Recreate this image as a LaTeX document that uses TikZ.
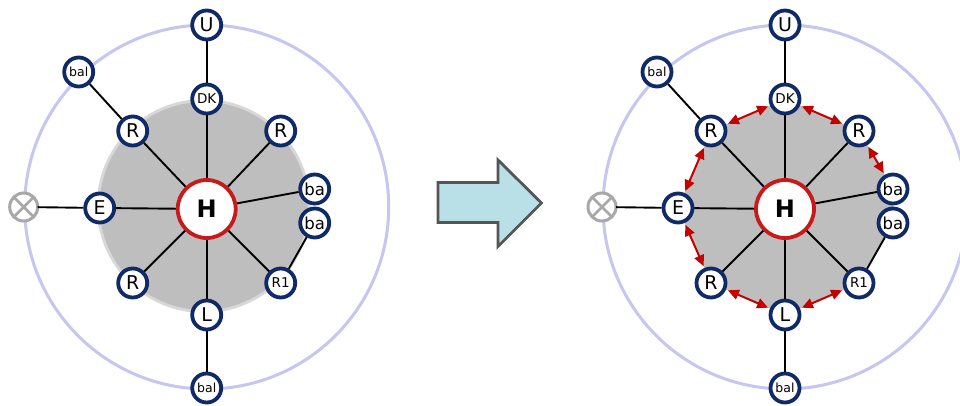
\documentclass[tikz,border=0pt]{standalone}
\usepackage{fontspec}
\setmainfont{DejaVu Sans}
\usetikzlibrary{arrows.meta}
\pgfdeclarelayer{base}
\pgfdeclarelayer{bg}
\pgfsetlayers{base,bg,main}
\definecolor{navy}{HTML}{0F2A66}
\definecolor{hred}{HTML}{C81A1A}
\definecolor{ringc}{HTML}{C6C6F0}
\definecolor{discc}{HTML}{BEBEBE}
\definecolor{rimc}{HTML}{D8D8D8}
\definecolor{arrred}{HTML}{C40000}
\definecolor{bigfill}{HTML}{B8E0E6}
\definecolor{bigedge}{HTML}{555555}
\definecolor{xgray}{HTML}{A8A8A8}
\tikzset{
  nd/.style={circle, draw=navy, line width=3.8pt, fill=white, minimum size=29pt, inner sep=0pt, font=\fontsize{19}{19}\selectfont},
  ndba/.style={nd, font=\fontsize{16.5}{16.5}\selectfont},
  ndsm/.style={nd, font=\fontsize{13.5}{13.5}\selectfont},
  ndbal/.style={nd, font=\fontsize{12.5}{12.5}\selectfont},
  hub/.style={circle, draw=hred, line width=3.8pt, fill=white, minimum size=58pt, inner sep=0pt, font=\fontsize{24}{24}\selectfont\bfseries},
  xnode/.style={circle, draw=xgray, line width=3pt, fill=white, minimum size=28pt, inner sep=0pt, outer sep=0pt},
  link/.style={line width=1.9pt, black},
  ringline/.style={draw=ringc, line width=3pt},
  dbl/.style={arrred, line width=2pt, {Triangle[length=11pt,width=10pt]}-{Triangle[length=11pt,width=10pt]}, shorten <=2pt, shorten >=2pt},
}
\newcommand\drawnet[2]{%
  \begin{scope}[shift={(#2,209)}]
    \node[hub] (#1H) at (0,0) {H};
    \node[nd] (#1U) at (0,-184) {U};
    \node[ndsm] (#1DK) at (0,-110) {DK};
    \node[nd] (#1Rul) at (-74,-78) {R};
    \node[nd] (#1Rur) at (74,-78) {R};
    \node[ndba] (#1ba1) at (108,-20) {ba};
    \node[ndba] (#1ba2) at (108,14) {ba};
    \node[ndsm] (#1R1) at (74,74) {R1};
    \node[nd] (#1L) at (0,106) {L};
    \node[nd] (#1Rll) at (-74,74) {R};
    \node[nd] (#1E) at (-107,-1) {E};
    \node[xnode] (#1X) at (-183,-2) {};
    \node[ndbal] (#1balt) at (-128,-137) {bal};
    \node[ndbal] (#1balb) at (0,179) {bal};
    \draw[xgray, line width=2.6pt] (#1X.45) -- (#1X.225) (#1X.135) -- (#1X.315);
    \draw[link] (#1U) -- (#1DK);
    \draw[link] (#1DK) -- (#1H);
    \draw[link] (#1Rul) -- (#1H);
    \draw[link] (#1Rur) -- (#1H);
    \draw[link] (#1ba1) -- (#1H);
    \draw[link] (#1R1) -- (#1H);
    \draw[link] (#1L) -- (#1H);
    \draw[link] (#1Rll) -- (#1H);
    \draw[link] (#1E) -- (#1H);
    \draw[link] (#1X) -- (#1E);
    \draw[link] (#1balt) -- (#1Rul);
    \draw[link] (#1balb) -- (#1L);
    \draw[link] (#1R1) -- (#1ba2);
    \begin{pgfonlayer}{bg}
      \draw[ringline] (0,-2) circle[radius=182];
    \end{pgfonlayer}
  \end{scope}}
\begin{document}
\begin{tikzpicture}[x=1pt,y=-1pt]
  \begin{pgfonlayer}{base}
    \fill[white] (0,0) rectangle (960,406);
  \end{pgfonlayer}
  \useasboundingbox (0,0) rectangle (960,406);
  \drawnet{a}{206.7}
  \drawnet{b}{785}
  \begin{pgfonlayer}{bg}
    \fill[rimc] (203.7,206) circle[radius=107];
    \fill[discc] (203.7,206) circle[radius=104];
    \fill[discc] (bDK.center) -- (bRur.center) -- (bba1.center) -- (bba2.center) -- (bR1.center) -- (bL.center) -- (bRll.center) -- (bE.center) -- (bRul.center) -- cycle;
  \end{pgfonlayer}
  \draw[dbl] (bRul) -- (bDK);
  \draw[dbl] (bDK) -- (bRur);
  \draw[dbl] (bRur) -- (bba1);
  \draw[dbl] (bRul) -- (bE);
  \draw[dbl] (bE) -- (bRll);
  \draw[dbl] (bRll) -- (bL);
  \draw[dbl] (bL) -- (bR1);
  \draw[draw=bigedge, fill=bigfill, line width=2.8pt, line join=miter]
    (438,182.5) -- (498,182.5) -- (498,160) -- (541.5,203) -- (498,246.5) -- (498,222.5) -- (438,222.5) -- cycle;
\end{tikzpicture}
\end{document}
